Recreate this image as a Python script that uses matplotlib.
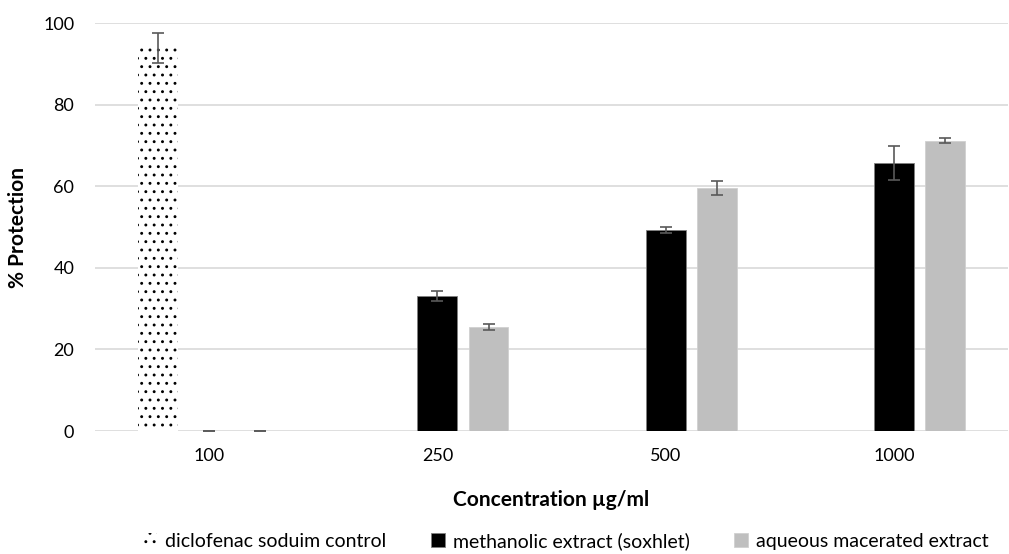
import matplotlib
matplotlib.use('Agg')
import matplotlib.pyplot as plt
import numpy as np

plt.rcParams['font.family'] = ['Lato', 'DejaVu Sans']
plt.rcParams['hatch.linewidth'] = 0.9

# ── data ──
concentrations = ['100', '250', '500', '1000']
series_names = ['diclofenac soduim control', 'methanolic extract (soxhlet)',
                'aqueous macerated extract']
diclofenac = [93.9, np.nan, np.nan, np.nan]
diclofenac_err = [3.7, 0, 0, 0]
methanolic = [0.0, 33.1, 49.3, 65.7]
methanolic_err = [0.0, 1.2, 0.8, 4.1]
aqueous = [0.0, 25.5, 59.6, 71.1]
aqueous_err = [0.0, 0.7, 1.7, 0.6]

fig = plt.figure(figsize=(10.09, 5.54), dpi=100, facecolor='white')
ax = fig.add_axes([95 / 1009, 123 / 554, 913 / 1009, 408 / 554])

x = np.arange(len(concentrations))
w = 0.175
step = 0.224
err_kw = dict(ecolor='#595959', elinewidth=1.2, capsize=4, capthick=1.2)

b1 = ax.bar(x - step, np.nan_to_num(diclofenac), w, color='white', edgecolor='black',
            hatch='..', linewidth=0, zorder=3, label=series_names[0])
ax.errorbar(x[:1] - step, diclofenac[:1], yerr=diclofenac_err[:1], fmt='none',
            zorder=4, **err_kw)
b2 = ax.bar(x, methanolic, w, color='black', edgecolor='#7f7f7f', linewidth=0.6,
            zorder=3, label=series_names[1])
ax.errorbar(x, methanolic, yerr=methanolic_err, fmt='none', zorder=4, **err_kw)
b3 = ax.bar(x + step, aqueous, w, color='#bfbfbf', edgecolor='#d0d0d0', linewidth=0.6,
            zorder=3, label=series_names[2])
ax.errorbar(x + step, aqueous, yerr=aqueous_err, fmt='none', zorder=4, **err_kw)

ax.set_xlim(-0.5, len(concentrations) - 0.5)
ax.set_ylim(0, 100)
ax.set_yticks(np.arange(0, 101, 20))
ax.set_xticks(x)
ax.set_xticklabels(concentrations)
ax.tick_params(axis='both', length=0, labelsize=13, colors='#000000')
ax.tick_params(axis='x', pad=12)
ax.tick_params(axis='y', pad=15)
ax.yaxis.grid(True, color='#d9d9d9', lw=1.2, zorder=0)
for s in ax.spines.values():
    s.set_visible(False)

ax.set_xlabel('Concentration µg/ml', fontsize=15, fontweight='bold')
ax.xaxis.set_label_coords((551 - 95) / 913, (431 - 500) / 408)
ax.xaxis.label.set_va('center')
ax.set_ylabel('% Protection', fontsize=15, fontweight='bold')
ax.yaxis.set_label_coords((18 - 95) / 913, (431 - 227) / 408)
ax.yaxis.label.set_va('center')

fig.legend(handles=[b1, b2, b3], loc='center', bbox_to_anchor=(0.561, 13 / 554),
           ncol=3, frameon=False, fontsize=14, handlelength=0.7, handleheight=0.7,
           handletextpad=0.4, columnspacing=2.3)

fig.savefig('out.png', dpi=100, facecolor='white')
